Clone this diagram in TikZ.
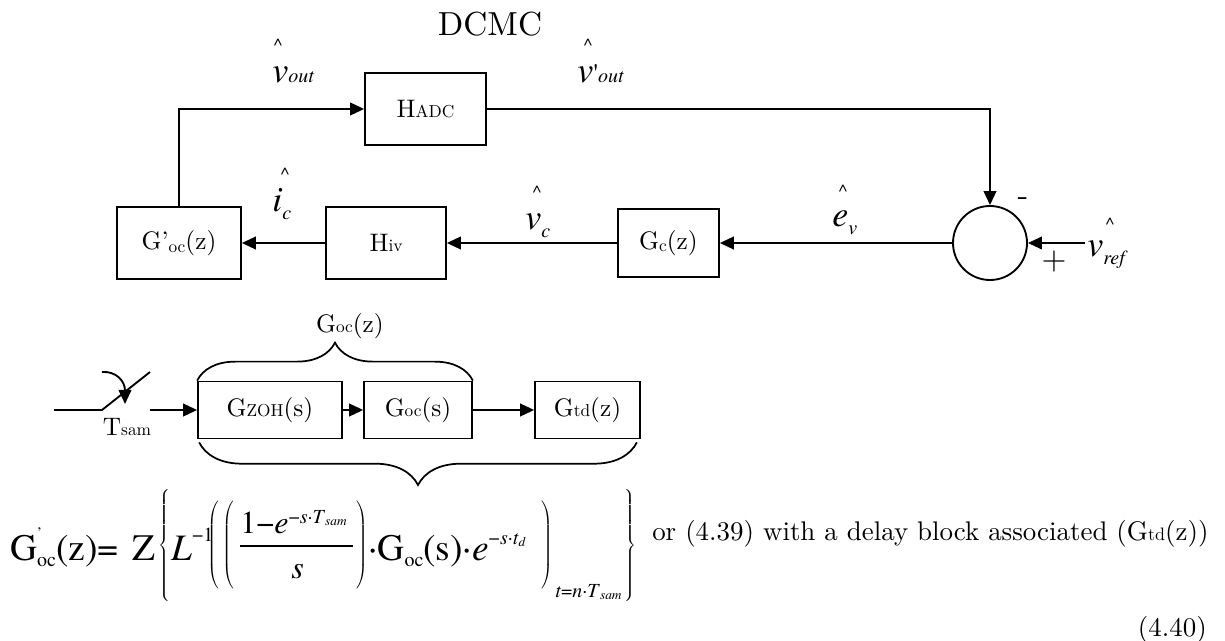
\documentclass[tikz,border=0pt]{standalone}
\usepackage{fontspec}
\usetikzlibrary{arrows.meta,decorations.pathreplacing,calc}
\IfFontExistsTF{texgyretermes-regular.otf}
  {\newfontfamily\tnr{texgyretermes}[Extension=.otf,UprightFont=*-regular,ItalicFont=*-italic,BoldFont=*-bold]}
  {\newfontfamily\tnr{Liberation Serif}}
\IfFontExistsTF{lmroman10-regular.otf}
  {\newfontfamily\lmx{lmroman10}[Extension=.otf,UprightFont=*-regular,ItalicFont=*-italic,BoldFont=*-bold]}
  {\newfontfamily\lmx{Latin Modern Roman}}
\newcommand\myfs[1]{\fontsize{#1}{#1}\selectfont}
\newcommand\bigdl[3]{$\delimiterfactor=1000\delimitershortfall=0pt\left#1\vcenter{\hrule height #3 width 0pt}\right#2$}
\begin{document}
\begin{tikzpicture}[x=0.75pt,y=-0.75pt,
  blk/.style={draw, line width=1.3pt, inner sep=0pt, font=\lmx\myfs{19}},
  arr/.style={line width=1.4pt, -{Triangle[length=10.5pt,width=9.5pt]}},
  ln/.style={line width=1.4pt},
  var/.style={inner sep=0pt, anchor=base west, font=\tnr\itshape\myfs{27}},
  hat/.style={inner sep=0pt, anchor=base, font=\tnr\myfs{14}},
  ftx/.style={inner sep=0pt, anchor=base west, font=\tnr\myfs{28}},
  dlm/.style={inner sep=0pt, font=\myfs{10}},
  sgn/.style={inner sep=0pt, font=\lmx\myfs{24}},
  lbl/.style={inner sep=0pt, font=\lmx\myfs{19}},
  brc/.style={line width=1.3pt, decorate},
  eqt/.style={inner sep=0pt, font=\lmx\myfs{20.2}},
]
\useasboundingbox (0,0) rectangle (1225,641);

% ---------- upper loop ----------
\node[inner sep=0pt, font=\lmx\myfs{25}] (title) at (490,24) {DCMC};

\node[blk, minimum width=90.75pt, minimum height=54pt] (hadc) at (425.5,109) {H{\myfs{13}ADC}};
\node[blk, minimum width=93pt, minimum height=54pt] (goc) at (179,243) {G’\raisebox{-0.12em}{\myfs{13}oc}(z)};
\node[blk, minimum width=90pt, minimum height=54pt] (hiv) at (386,243) {H{\myfs{13}iv}};
\node[blk, minimum width=75.75pt, minimum height=51pt] (gc) at (668.5,243) {G\raisebox{-0.08em}{\myfs{13}c}(z)};
\node[draw, circle, line width=1.4pt, minimum size=55.5pt, inner sep=0pt] (sum) at (990,243) {};
\coordinate (vin) at (1085,243);

\draw[arr] (goc.north) |- (hadc.west);
\draw[arr] (hadc.east) -| (sum.north);
\draw[arr] (sum.west) -- (gc.east);
\draw[arr] (gc.west) -- (hiv.east);
\draw[arr] (hiv.west) -- (goc.east);
\draw[arr] (vin) -- (sum.east);

\node[var] (vout) at (272,83) {v{\myfs{15}out}};
\node[hat] (hvout) at (278,52) {\textasciicircum};
\node[var] (vpout) at (577,83) {v{\upshape\myfs{20}'}{\myfs{15}out}};
\node[hat] (hvpout) at (588,52) {\textasciicircum};
\node[var] (ic) at (272,212) {i\raisebox{-6pt}{\myfs{15}c}};
\node[hat] (hic) at (285,181) {\textasciicircum};
\node[var] (vc) at (525,230) {v\raisebox{-6pt}{\myfs{15}c}};
\node[hat] (hvc) at (537,199) {\textasciicircum};
\node[var] (ev) at (832,227) {e\raisebox{-6pt}{\myfs{15}v}};
\node[hat] (hev) at (843,198) {\textasciicircum};
\node[var] (vref) at (1087,257) {v\raisebox{-6pt}{\myfs{15}ref}};
\node[hat] (hvref) at (1110,231) {\textasciicircum};
\node[sgn] (minus) at (1023,202) {-};
\node[sgn] (plus) at (1054,262) {+};

% ---------- sampled chain ----------
\coordinate (sw0) at (54,410);
\coordinate (sw1) at (102,410);
\coordinate (sw2) at (150,372);
\coordinate (sw3) at (150,410);
\coordinate (sa0) at (102,372);
\coordinate (sa1) at (125,404);
\draw[ln] (sw0) -- (sw1) -- (sw2);
\draw[arr] (sa0) .. controls (116,371) and (125,381) .. (sa1);
\node[lbl, anchor=base] (tsam) at (127,436) {T{\myfs{13}sam}};

\node[blk, minimum width=108pt, minimum height=42.75pt] (gzoh) at (270,410) {G{\myfs{13}ZOH}(s)};
\node[blk, minimum width=81pt, minimum height=42.75pt] (gocs) at (418,410) {G{\myfs{13}oc}(s)};
\node[blk, minimum width=78.75pt, minimum height=42.75pt] (gtd) at (587.5,410) {G{\myfs{13}td}(z)};
\draw[arr] (sw3) -- (gzoh.west);
\draw[arr] (gzoh.east) -- (gocs.west);
\draw[arr] (gocs.east) -- (gtd.west);

\draw[brc, decoration={brace, amplitude=28.5pt}] (gzoh.north west) -- (gocs.north east);
\node[lbl, anchor=base] (goczl) at (350,333) {G{\myfs{13}oc}(z)};
\coordinate (bb1) at ($(gtd.south east)+(-4,3)$);
\coordinate (bb2) at ($(gzoh.south west)+(2,3)$);
\draw[brc, decoration={brace, amplitude=32pt}] (bb1) -- (bb2);

% ---------- formula ----------
\node[ftx] (f1) at (10,560) {G\rlap{\raisebox{16pt}{\myfs{12}’}}\raisebox{-5pt}{\myfs{15}oc}(z)=};
\node[ftx] (f2) at (132,560) {Z};
\node[dlm] (lbr) at (165,545) {\bigdl{\{}{.}{80pt}};
\node[ftx] (f3) at (171,560) {\textit{L}\raisebox{14pt}{\myfs{15}−1}};
\node[dlm] (lp1) at (214,545) {\bigdl{(}{.}{66pt}};
\node[dlm] (lp2) at (229,545) {\bigdl{(}{.}{64pt}};
\node[ftx, font=\tnr\myfs{24}] (f4) at (240,533) {1−\textit{e}\raisebox{7.5pt}{\myfs{15}−\textit{s}·\textit{T}\raisebox{-2pt}{\myfs{10}\textit{sam}}}};
\coordinate (fb1) at (240,546);
\coordinate (fb2) at (353,546);
\draw[line width=0.9pt] (fb1) -- (fb2);
\node[ftx, font=\tnr\itshape\myfs{24}] (f5) at (291,578) {s};
\node[dlm] (rp2) at (362,545) {\bigdl{.}{)}{64pt}};
\node[ftx] (f6) at (368,560) {·G\raisebox{-5pt}{\myfs{15}oc}(s)·\textit{e}\raisebox{12pt}{\myfs{15}−\textit{s}·\textit{t}\raisebox{-2pt}{\myfs{10}\textit{d}}}};
\node[dlm] (rp1) at (547,545) {\bigdl{.}{)}{66pt}};
\node[ftx, font=\tnr\myfs{15}] (f7) at (555,597) {\textit{t}=\textit{n}·\textit{T}\raisebox{-2pt}{\myfs{10}\textit{sam}}};
\node[dlm] (rbr) at (630,545) {\bigdl{.}{\}}{80pt}};
\node[eqt, anchor=base west] (f8) at (652,541) {or (4.39) with a delay block associated (G{\myfs{13.5}td}(z))};
\node[eqt, anchor=base east] (f9) at (1207,636) {(4.40)};
\end{tikzpicture}
\end{document}
